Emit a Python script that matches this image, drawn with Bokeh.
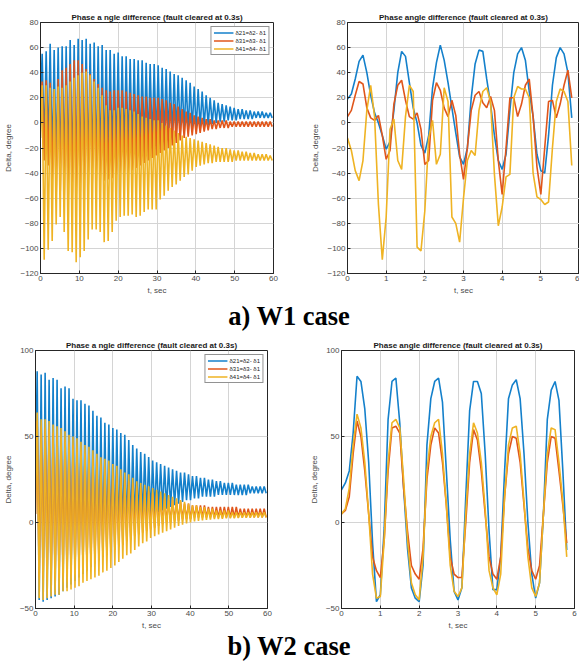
import numpy as np
from bokeh.plotting import figure
from bokeh.layouts import column, row
from bokeh.models import FixedTicker, Range1d, Legend, LegendItem, Div
from bokeh.embed import file_html
from bokeh.resources import INLINE

# ---------------- data ----------------
LABELS = ["δ21=δ2- δ1", "δ31=δ3- δ1", "δ41=δ4- δ1"]
TITLE_LEFT = "Phase a ngle difference (fault cleared at 0.3s)"
TITLE_RIGHT = "Phase angle difference (fault cleared at 0.3s)"

# long runs (0-60 s): one peak and one trough per swing cycle
PERIOD = 1.03          # s, swing period
T_PEAK0 = 0.43         # time of first peak
T_TROUGH0 = 0.95       # time of first trough

W1_START = [18, 5, -12]
W1_B_PK = [55, 57, 63, 58, 60, 61, 61, 66, 62, 67, 66, 67, 63, 64, 61, 62, 58, 58, 55, 56,
           53, 53, 51, 51, 50, 50, 48, 47, 47, 46, 44, 43, 41, 39, 38, 36, 34, 32, 29, 27,
           25, 22, 20, 18, 16, 15, 14, 13, 12, 11, 11, 10, 10, 9, 9, 9, 8, 8]
W1_B_TR = [-20, -22, -33, -37, -40, -40, -42, -44, -45, -45, -44, -42, -40, -38, -36, -34, -32, -30, -29, -28,
           -26, -25, -24, -22, -21, -20, -19, -18, -16, -15, -14, -13, -12, -10, -9, -8, -7, -6, -5, -4,
           -3, -2, -1, 0, 1, 1, 2, 2, 2, 3, 3, 3, 3, 4, 4, 4, 4, 4]
W1_O_PK = [33, 34, 32, 25, 35, 42, 44, 47, 50, 50, 47, 43, 39, 35, 31, 28, 26, 25, 26, 26,
           26, 25, 24, 23, 22, 21, 21, 20, 20, 20, 19, 18, 16, 15, 13, 11, 9, 8, 6, 5,
           4, 3, 3, 2, 2, 2, 2, 1, 1, 1, 1, 1, 1, 1, 1, 1, 1, 1]
W1_O_TR = [-30, -34, -45, -57, -57, -60, -62, -62, -60, -58, -55, -52, -50, -48, -47, -46, -45, -44, -43, -42,
           -41, -40, -38, -36, -34, -32, -30, -28, -26, -24, -22, -20, -18, -16, -14, -12, -11, -10, -9, -8,
           -7, -6, -5, -5, -4, -4, -4, -3, -3, -3, -3, -3, -3, -3, -3, -3, -3, -3]
W1_Y_PK = [30, 30, 28, 27, 29, 28, 30, 33, 36, 38, 40, 41, 38, 33, 28, 22, 14, 10, 10, 12,
           12, 11, 10, 9, 7, 5, 4, 3, 2, 2, 0, -2, -4, -6, -8, -10, -11, -12, -13, -14,
           -15, -16, -17, -18, -19, -20, -20, -21, -22, -22, -23, -23, -24, -24, -25, -25, -25, -26]
W1_Y_TR = [-109, -101, -94, -81, -75, -87, -102, -103, -111, -107, -102, -93, -85, -85, -87, -95, -94, -87, -78, -75,
           -74, -74, -73, -75, -74, -71, -69, -69, -69, -61, -58, -54, -51, -49, -46, -43, -41, -38, -35, -34,
           -33, -32, -32, -31, -31, -31, -31, -31, -30, -30, -30, -30, -30, -30, -30, -30, -30, -30]

W2_START = [19, 5, 5]
W2_B_PK = [88, 86, 87, 83, 84, 83, 78, 79, 78, 72, 71, 71, 69, 68, 65, 62, 61, 58, 57, 55,
           54, 52, 51, 48, 45, 43, 41, 40, 38, 36, 35, 34, 33, 32, 31, 30, 29, 29, 28, 27,
           27, 26, 26, 25, 25, 24, 24, 23, 23, 23, 22, 22, 22, 22, 21, 21, 21, 21]
W2_B_TR = [-45, -46, -45, -44, -43, -42, -40, -38, -36, -34, -32, -30, -28, -26, -24, -22, -20, -18, -16, -14,
           -12, -10, -8, -6, -4, -2, 0, 2, 3, 5, 6, 7, 8, 9, 10, 11, 12, 13, 13, 14,
           14, 15, 15, 15, 15, 16, 16, 16, 16, 16, 16, 16, 16, 17, 17, 17, 17, 17]
W2_O_PK = [59, 56, 55, 54, 52, 51, 49, 48, 46, 45, 43, 42, 40, 38, 37, 35, 34, 32, 31, 29,
           28, 27, 25, 24, 23, 21, 20, 19, 18, 17, 16, 15, 14, 13, 13, 12, 12, 11, 11, 10,
           10, 10, 10, 9, 9, 9, 9, 9, 9, 9, 9, 8, 8, 8, 8, 8, 8, 8]
W2_O_TR = [-32, -33, -32, -33, -33, -32, -31, -30, -29, -28, -27, -26, -25, -24, -23, -22, -20, -19, -17, -16,
           -14, -13, -11, -10, -8, -7, -6, -5, -4, -3, -2, -1, 0, 0, 1, 1, 2, 2, 2, 3,
           3, 3, 3, 3, 3, 3, 3, 3, 3, 3, 3, 3, 3, 3, 3, 3, 3, 3]
W2_Y_PK = [64, 60, 60, 59, 57, 56, 55, 53, 51, 50, 49, 47, 45, 44, 42, 40, 38, 37, 36, 34,
           33, 31, 29, 28, 26, 24, 23, 22, 21, 20, 19, 18, 17, 16, 15, 14, 13, 12, 11, 10,
           10, 9, 9, 8, 8, 7, 7, 7, 7, 6, 6, 6, 6, 6, 6, 6, 6, 6]
W2_Y_TR = [-44, -45, -44, -43, -42, -42, -40, -40, -39, -38, -37, -35, -34, -33, -32, -31, -29, -28, -26.5, -25,
           -23, -21, -19, -18, -16, -14, -12, -11, -9, -8, -7, -6, -5, -4, -3, -2, -1.3, -0.6, 0, 0.6,
           1, 1.3, 1.5, 1.7, 2, 2, 2.2, 2.4, 2.5, 2.5, 2.6, 2.7, 2.8, 2.8, 2.9, 3, 3, 3]

# short runs (0-5.8 s), sampled every 0.1 s
T_SHORT = [round(0.1 * i, 1) for i in range(59)]
W1S_BLUE = [19, 23, 35, 49, 54, 40, 22, 8, 0, -10, -21, -15, 10, 40, 57, 53, 32, 12, 0, -18,
            -24, -10, 28, 48, 62, 50, 32, 12, -8, -27, -33, -20, 20, 47, 58, 57, 35, 15, -10, -30,
            -37, -25, 10, 40, 55, 60, 50, 25, 5, -25, -38, -40, -10, 30, 52, 60, 55, 40, 4]
W1S_ORANGE = [5, 10, 22, 33, 31, 12, 4, 2, 6, -10, -29, -22, 15, 30, 34, 18, 5, 3, 8, -5,
              -33, -30, 18, 32, 26, 12, 5, 18, 6, -25, -45, -20, 10, 22, 25, 16, 12, 21, 10, -30,
              -57, -20, 20, 20, 5, 15, 30, 35, 5, -35, -57, -20, 17, 18, 4, 15, 30, 42, 20]
W1S_YELLOW = [-12, -22, -38, -46, -30, 10, 30, 5, -65, -109, -75, -5, 3, -30, -37, 5, 30, 25, -99, -102,
              -70, -12, 2, -33, -25, 28, 17, -75, -80, -95, -60, -30, -22, -26, 10, 25, 28, 17, -41, -82,
              -67, -43, -41, 20, 29, 27, 27, 20, -40, -59, -61, -65, -63, -20, 17, 27, 25, 17, -34]
W2S_BLUE = [19, 23, 30, 52, 85, 82, 66, 35, -12, -46, -42, -3, 60, 82, 84, 58, 20, -15, -38, -44,
            -46, -25, 45, 72, 82, 84, 70, 30, -10, -40, -45, -38, 15, 65, 82, 82, 75, 40, -5, -39,
            -39, -20, 30, 72, 80, 83, 72, 40, 0, -30, -44, -35, 5, 60, 77, 82, 71, 30, -16]
W2S_ORANGE = [5, 7, 15, 40, 59, 50, 30, 5, -20, -28, -32, -10, 30, 55, 56, 52, 20, -5, -25, -30,
              -33, -15, 25, 45, 55, 52, 35, 10, -20, -30, -32, -32, 0, 35, 54, 48, 30, 5, -20, -30,
              -33, -20, 15, 40, 50, 49, 35, 10, -15, -28, -33, -25, 5, 35, 50, 49, 30, 10, -12]
W2S_YELLOW = [5, 8, 20, 45, 63, 55, 35, 5, -30, -44, -43, -10, 35, 58, 60, 55, 25, -10, -35, -42,
              -45, -20, 30, 50, 58, 60, 40, 10, -25, -40, -43, -38, 5, 40, 58, 52, 35, 8, -28, -38,
              -42, -30, 15, 45, 55, 56, 40, 12, -20, -38, -43, -35, 5, 40, 55, 54, 35, 12, -20]

TICKS_X_LONG = [0, 10, 20, 30, 40, 50, 60]
TICKS_X_SHORT = [0, 1, 2, 3, 4, 5, 6]
TICKS_Y_W1 = [-120, -100, -80, -60, -40, -20, 0, 20, 40, 60, 80]
TICKS_Y_W2 = [-50, 0, 50, 100]

# ---------------- styling ----------------
COLORS = ["#1480cb", "#e0561b", "#efb323"]
FONT = "Liberation Sans"
TXT = "#4a4a4a"


def cycles(start, peaks, troughs):
    t = [0.0]
    v = [start]
    for k, (pk, tr) in enumerate(zip(peaks, troughs)):
        t.extend([T_PEAK0 + k * PERIOD, T_TROUGH0 + k * PERIOD])
        v.extend([pk, tr])
    return t, v


def make_fig(title, width, height, bl, br, bt, bb, xr, yr, xt, yt):
    p = figure(width=width, height=height, x_range=Range1d(*xr), y_range=Range1d(*yr),
               output_backend="svg", toolbar_location=None, tools="",
               min_border_left=bl, min_border_right=br, min_border_top=bt, min_border_bottom=bb)
    p.title.text = title
    p.title.align = "center"
    p.title.text_font = FONT
    p.title.text_font_size = "8px"
    p.title.text_font_style = "bold"
    p.title.text_color = "#1a1a1a"
    p.title.standoff = 1
    p.outline_line_color = "#262626"
    p.outline_line_alpha = 1
    p.border_fill_color = "white"
    p.background_fill_color = "white"
    p.xaxis.ticker = FixedTicker(ticks=xt)
    p.yaxis.ticker = FixedTicker(ticks=yt)
    p.xaxis.axis_label = "t, sec"
    p.yaxis.axis_label = "Delta, degree"
    for ax in (p.xaxis[0], p.yaxis[0]):
        ax.major_tick_in = 3
        ax.major_tick_out = 0
        ax.minor_tick_in = 0
        ax.minor_tick_out = 0
        ax.major_tick_line_color = "#262626"
        ax.axis_line_color = "#262626"
        ax.major_label_text_font = FONT
        ax.major_label_text_font_size = "8px"
        ax.major_label_text_color = TXT
        ax.axis_label_text_font = FONT
        ax.axis_label_text_font_size = "8px"
        ax.axis_label_text_font_style = "normal"
        ax.axis_label_text_color = TXT
        ax.major_label_standoff = 2
        ax.axis_label_standoff = 2
    p.yaxis[0].axis_label_standoff = 4
    for g in (p.xgrid[0], p.ygrid[0]):
        g.grid_line_color = "#d4d4d4"
        g.grid_line_width = 1
    return p


def add_legend(p, renderers):
    items = [LegendItem(label=lab, renderers=[r]) for lab, r in zip(LABELS, renderers)]
    lg = Legend(items=items, location="top_right")
    lg.label_text_font = FONT
    lg.label_text_font_size = "6px"
    lg.label_text_color = "#1a1a1a"
    lg.label_height = 7
    lg.glyph_height = 7
    lg.glyph_width = 20
    lg.label_standoff = 2
    lg.spacing = 1
    lg.padding = 2
    lg.margin = 4
    lg.border_line_color = "#262626"
    lg.border_line_width = 1
    lg.background_fill_alpha = 1
    p.add_layout(lg)


# ---------------- W1 ----------------
p1 = make_fig(TITLE_LEFT, 290, 300, 40, 17, 22, 27, (0, 60), (-120, 80), TICKS_X_LONG, TICKS_Y_W1)
r = []
for c, st, pk, tr in zip(COLORS, W1_START, [W1_B_PK, W1_O_PK, W1_Y_PK], [W1_B_TR, W1_O_TR, W1_Y_TR]):
    t, v = cycles(st, pk, tr)
    r.append(p1.line(t, v, line_color=c, line_width=1.6))
add_legend(p1, r)

p2 = make_fig(TITLE_RIGHT, 289, 300, 57, 0, 22, 27, (0, 6), (-120, 80), TICKS_X_SHORT, TICKS_Y_W1)
for c, v in zip(COLORS, [W1S_BLUE, W1S_ORANGE, W1S_YELLOW]):
    p2.line(T_SHORT, v, line_color=c, line_width=1.6)

# ---------------- W2 ----------------
p3 = make_fig(TITLE_LEFT, 290, 300, 33, 23, 18, 23, (0, 60), (-50, 100), TICKS_X_LONG, TICKS_Y_W2)
r = []
for c, st, pk, tr in zip(COLORS, W2_START, [W2_B_PK, W2_O_PK, W2_Y_PK], [W2_B_TR, W2_O_TR, W2_Y_TR]):
    t, v = cycles(st, pk, tr)
    r.append(p3.line(t, v, line_color=c, line_width=1.6))
add_legend(p3, r)

p4 = make_fig(TITLE_RIGHT, 289, 300, 51, 5, 18, 23, (0, 6), (-50, 100), TICKS_X_SHORT, TICKS_Y_W2)
for c, v in zip(COLORS, [W2S_BLUE, W2S_ORANGE, W2S_YELLOW]):
    p4.line(T_SHORT, v, line_color=c, line_width=1.6)

CAP_STYLE = ("font-family:'Liberation Serif','Times New Roman',serif;font-weight:bold;"
             "font-size:26.5px;text-align:center;width:578px;white-space:nowrap;margin:0;padding:0;")
cap1 = Div(text=f'<div style="{CAP_STYLE}line-height:32px;">a) W1 case</div>',
           width=579, height=32, margin=0)
cap2 = Div(text=f'<div style="{CAP_STYLE}line-height:29px;">b) W2 case</div>',
           width=579, height=29, margin=0)

layout = column(row(p1, p2), cap1, row(p3, p4), cap2)

open("out.html", "w").write(file_html(layout, INLINE))
